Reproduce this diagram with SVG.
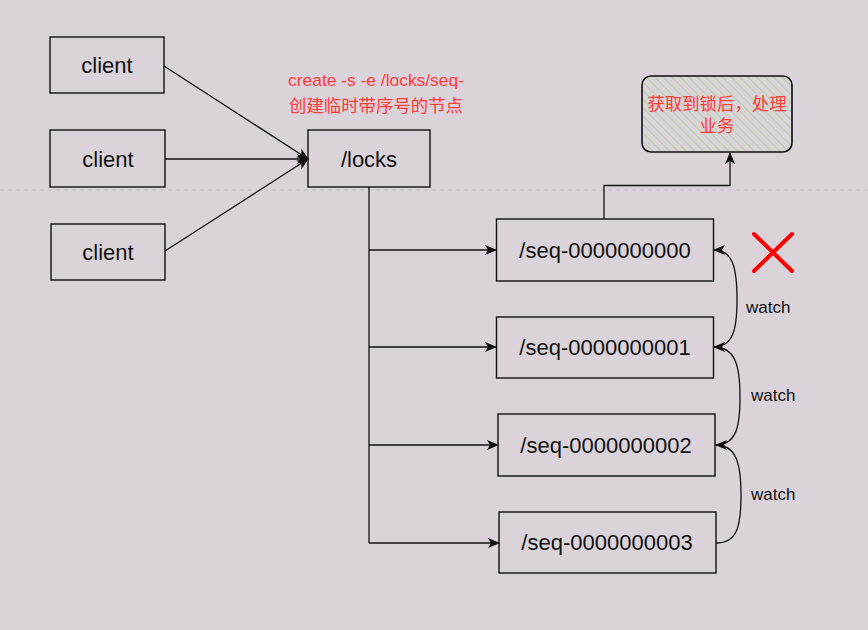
<svg xmlns="http://www.w3.org/2000/svg" width="868" height="630" viewBox="0 0 868 630">
<style>
.box{fill:none;stroke:#111;stroke-width:1.4}
.lbl{font-family:"Liberation Sans",Arial,sans-serif;font-size:22px;fill:#111;text-anchor:middle}
.red{font-family:"Liberation Sans","Noto Sans CJK SC",sans-serif;font-size:17.4px;fill:#ff3b3b;text-anchor:middle}
.watch{font-family:"Liberation Sans",Arial,sans-serif;font-size:17px;fill:#111}
.edge{fill:none;stroke:#111;stroke-width:1.3}
</style>
<defs>
<marker id="arr" viewBox="0 0 12 10" refX="11" refY="5" markerWidth="12" markerHeight="10" markerUnits="userSpaceOnUse" orient="auto">
<path d="M0,0 L12,5 L0,10 L3,5 Z" fill="#111"/>
</marker>
<pattern id="hatch" patternUnits="userSpaceOnUse" width="6" height="6" patternTransform="rotate(-45)">
<line x1="0" y1="0" x2="0" y2="6" stroke="#9dd07f" stroke-width="1.3"/>
</pattern>
</defs>
<rect width="868" height="630" fill="#dbd3da"/>
<line x1="0" y1="190" x2="868" y2="190" stroke="#c4bcc2" stroke-width="1" stroke-dasharray="4,4"/>

<g id="connectors">
<line class="edge" x1="164" y1="66" x2="308" y2="159" marker-end="url(#arr)"/>
<line class="edge" x1="165" y1="159" x2="308" y2="159" marker-end="url(#arr)"/>
<line class="edge" x1="165" y1="251" x2="308" y2="159" marker-end="url(#arr)"/>
<path class="edge" d="M369,187 V543"/>
<line class="edge" x1="369" y1="250" x2="496" y2="250" marker-end="url(#arr)"/>
<line class="edge" x1="369" y1="347" x2="496" y2="347" marker-end="url(#arr)"/>
<line class="edge" x1="369" y1="445" x2="498" y2="445" marker-end="url(#arr)"/>
<line class="edge" x1="369" y1="543" x2="499" y2="543" marker-end="url(#arr)"/>
<path class="edge" d="M604,219 V185.5 H730 V153" marker-end="url(#arr)"/>
<path class="edge" d="M713,347 C733,347 737,330 737,300 C737,268 733,250 714,250" marker-end="url(#arr)"/>
<path class="edge" d="M715,445 C736,445 740,428 740,397 C740,365 735,347 714,347" marker-end="url(#arr)"/>
<path class="edge" d="M716,543 C737,543 741,527 741,495 C741,463 736,445 716,445" marker-end="url(#arr)"/>
<text class="watch" x="746" y="313">watch</text>
<text class="watch" x="751" y="401">watch</text>
<text class="watch" x="751" y="500">watch</text>
</g>

<g id="client1"><rect class="box" x="50" y="37" width="114" height="56"/><text class="lbl" x="107" y="73">client</text></g>
<g id="client2"><rect class="box" x="50" y="130" width="115" height="57"/><text class="lbl" x="108" y="167">client</text></g>
<g id="client3"><rect class="box" x="51" y="224" width="114" height="56"/><text class="lbl" x="108" y="260">client</text></g>

<g id="locks"><rect class="box" x="308" y="130" width="122" height="57"/><text class="lbl" x="369" y="167">/locks</text></g>

<g id="createLabel">
<text class="red" x="376" y="86">create -s -e /locks/seq-</text>
<text class="red" x="376" y="112">创建临时带序号的节点</text>
</g>

<g id="seq0"><rect class="box" x="496.5" y="219" width="217" height="62"/><text class="lbl" x="605" y="258">/seq-0000000000</text></g>
<g id="seq1"><rect class="box" x="496.5" y="317" width="217" height="61"/><text class="lbl" x="605" y="355">/seq-0000000001</text></g>
<g id="seq2"><rect class="box" x="498" y="414" width="217" height="62"/><text class="lbl" x="606" y="453">/seq-0000000002</text></g>
<g id="seq3"><rect class="box" x="499" y="512" width="217" height="61"/><text class="lbl" x="607" y="550">/seq-0000000003</text></g>

<g id="business">
<rect x="642" y="76" width="150" height="76" rx="9" fill="url(#hatch)" stroke="#111" stroke-width="1.6"/>
<text class="red" x="717" y="109.5">获取到锁后，处理</text>
<text class="red" x="717" y="131.5">业务</text>
</g>

<g id="cross" stroke="#ff0000" stroke-width="4" stroke-linecap="round">
<line x1="754" y1="234" x2="792" y2="271"/>
<line x1="792" y1="234" x2="754" y2="271"/>
</g>
</svg>
